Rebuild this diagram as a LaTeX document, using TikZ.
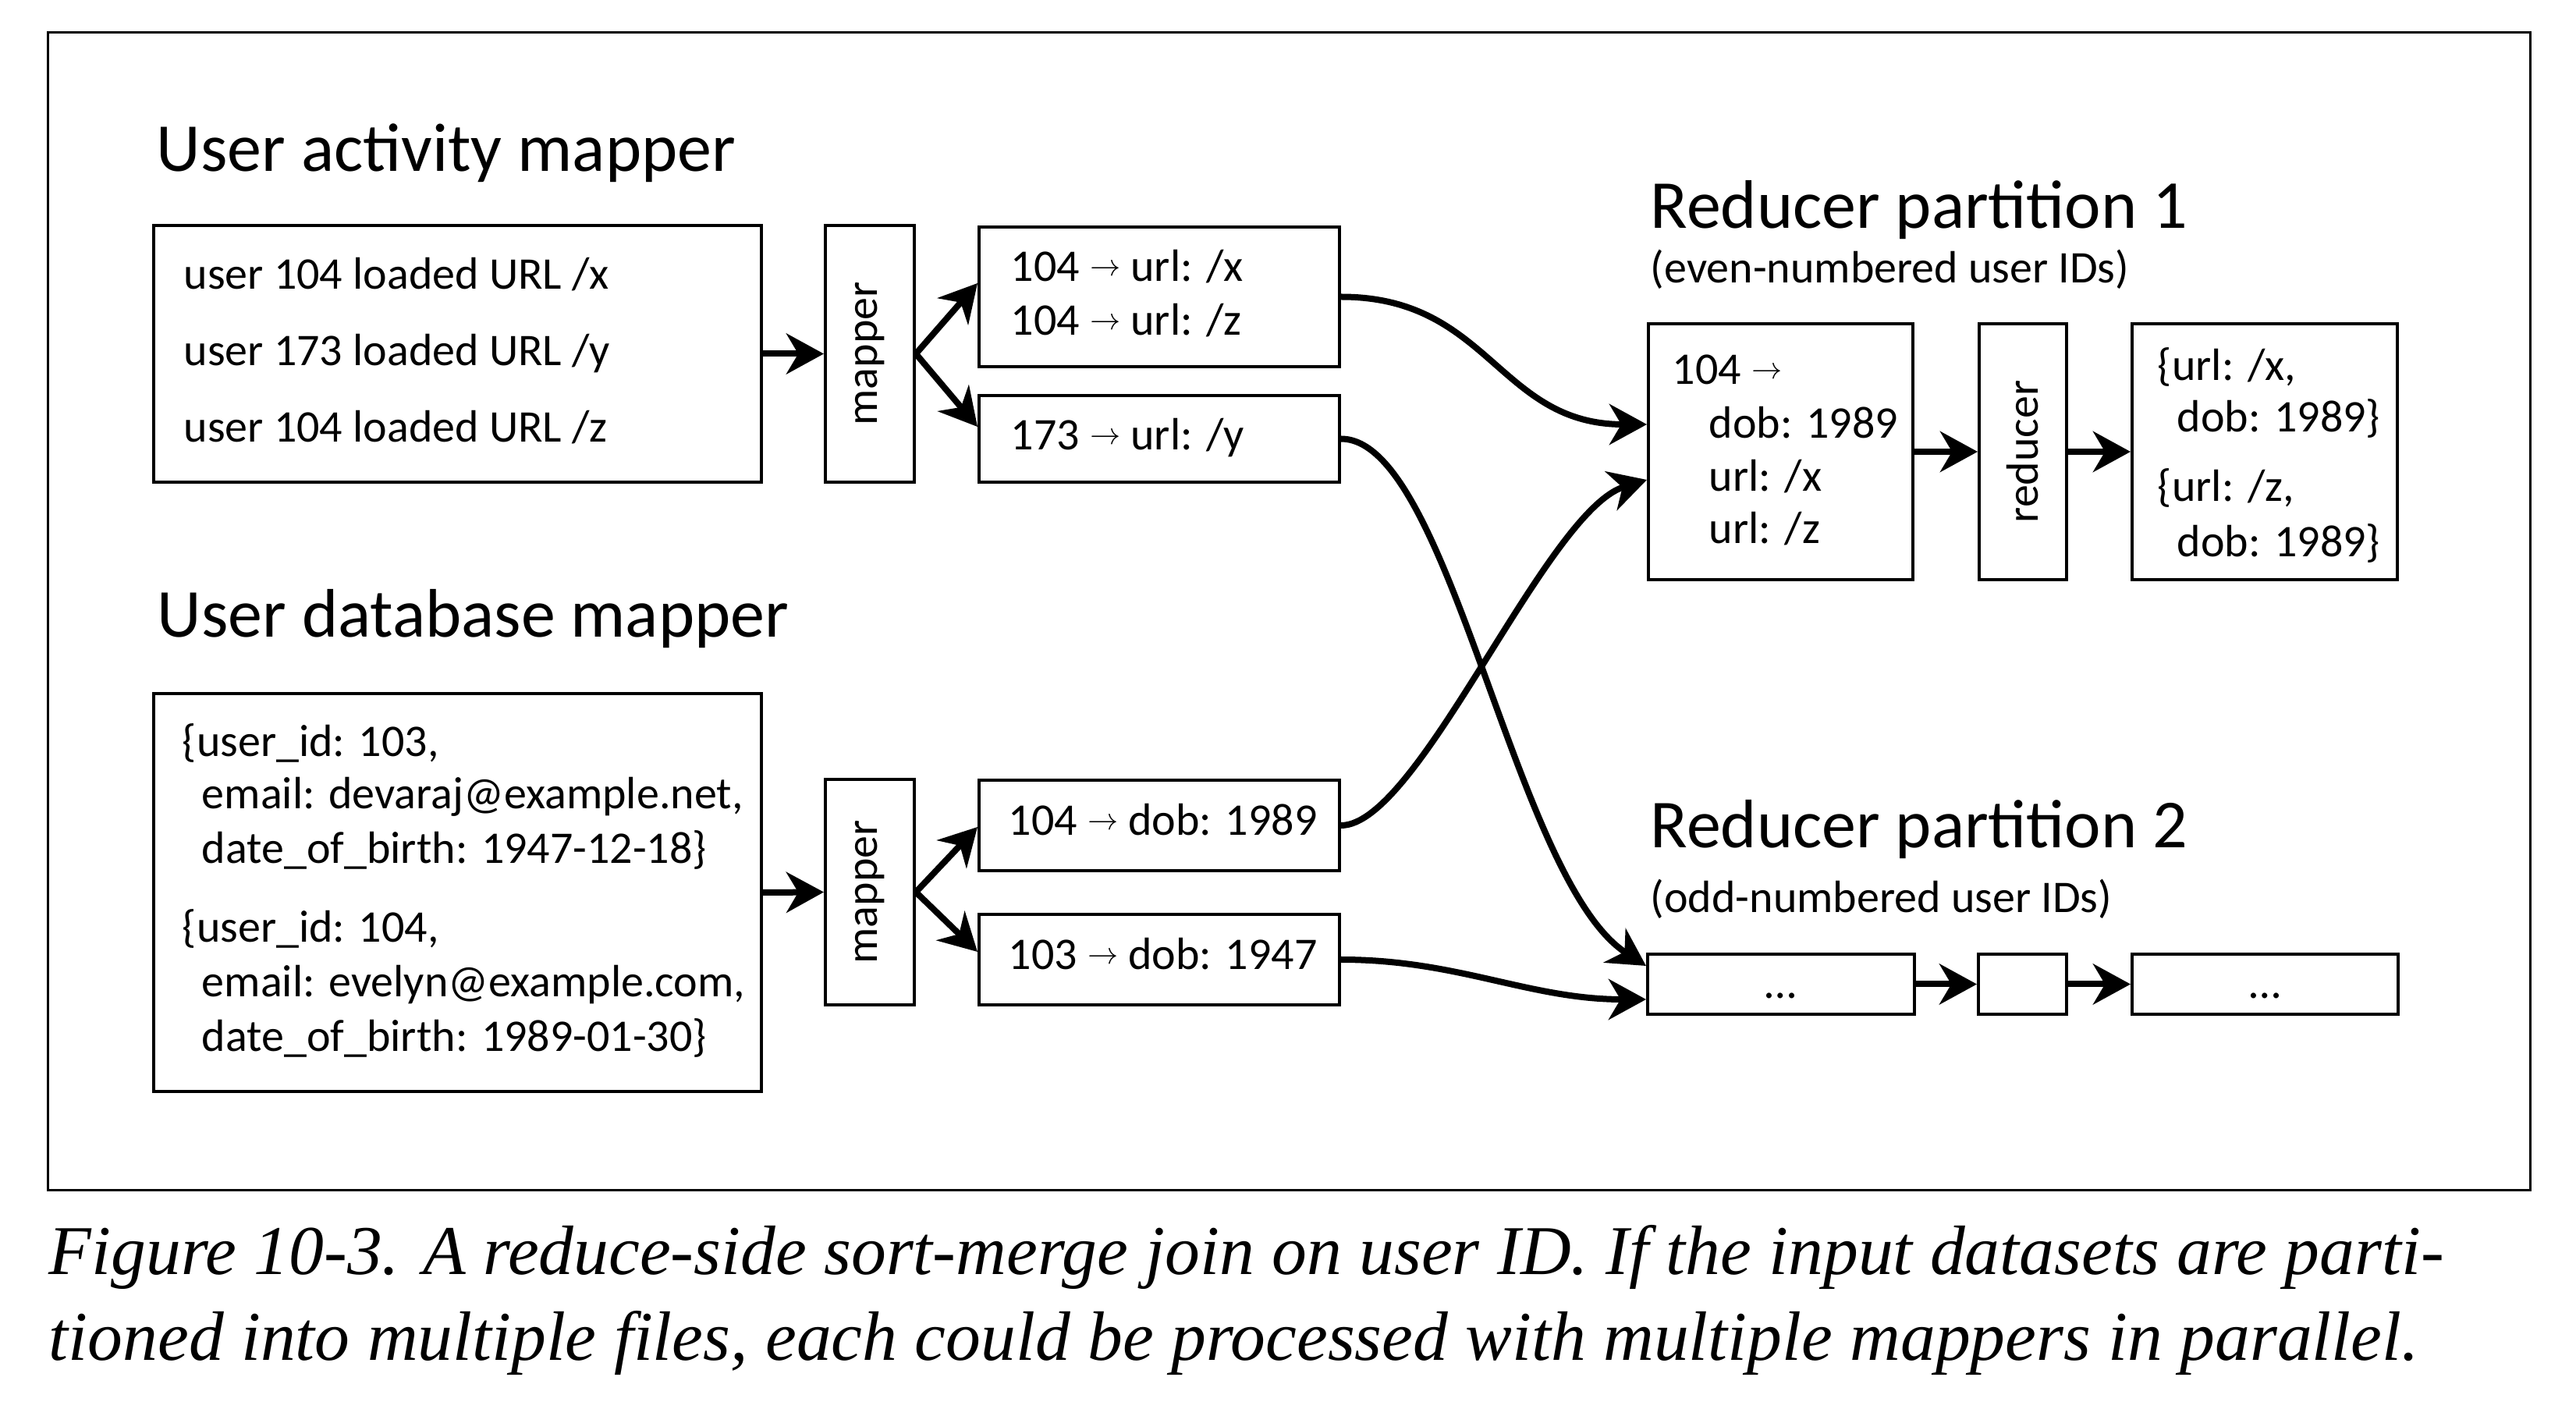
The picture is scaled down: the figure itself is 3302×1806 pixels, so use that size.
\documentclass[tikz,border=0pt]{standalone}
\usepackage{fontspec}
\usepackage{graphicx}
\usetikzlibrary{arrows.meta,calc}
\newfontfamily\txtfont{Carlito}
\newfontfamily\capfont{Liberation Serif}
\newcommand{\myarrow}{\raisebox{1.8pt}{\scalebox{0.68}{$\rightarrow$}}}
\begin{document}
\begin{tikzpicture}[x=0.25pt,y=-0.25pt,
  box/.style={draw, line width=1pt, inner sep=0pt, rectangle},
  conn/.style={line width=2pt, -{Stealth[length=12pt,width=13pt,inset=3.8pt]}},
  txt/.style={anchor=base west, inner sep=0pt, font=\txtfont\fontsize{14.5pt}{17pt}\selectfont},
  ttl/.style={anchor=base west, inner sep=0pt, font=\txtfont\fontsize{22pt}{26pt}\selectfont},
  vtxt/.style={rotate=90, inner sep=0pt, font=\txtfont\fontsize{14.5pt}{17pt}\selectfont},
  dotstxt/.style={anchor=base, inner sep=0pt, font=\txtfont\fontsize{14.5pt}{17pt}\selectfont},
  captxt/.style={anchor=base west, inner sep=0pt, font=\capfont\itshape\fontsize{22.4pt}{26pt}\selectfont},
]
\useasboundingbox (0,0) rectangle (3302,1806);
\node[box, line width=0.75pt, minimum width=795.5pt, minimum height=370.75pt] (frame) at (1652,783.5) {};

% titles
\node[ttl] (t1) at (200,220) {User activity mapper};
\node[ttl] (t2) at (201,817) {User database mapper};
\node[ttl] (t3) at (2115,293) {Reducer partition 1};
\node[txt] (t3s) at (2115,363) {(even-numbered user IDs)};
\node[ttl] (t4) at (2115,1087) {Reducer partition 2};
\node[txt] (t4s) at (2115,1170) {(odd-numbered user IDs)};

% boxes
\node[box, minimum width=194.75pt, minimum height=82.25pt] (act) at (586.5,453.5) {};
\node[box, minimum width=28.5pt, minimum height=82.25pt] (map1) at (1115,453.5) {};
\node[box, minimum width=115.5pt, minimum height=44.75pt] (A) at (1486,380.5) {};
\node[box, minimum width=115.5pt, minimum height=27.75pt] (B) at (1486,562.5) {};
\node[box, minimum width=194.75pt, minimum height=127.5pt] (db) at (586.5,1144) {};
\node[box, minimum width=28.5pt, minimum height=72.25pt] (map2) at (1115,1143.5) {};
\node[box, minimum width=115.5pt, minimum height=29pt] (C) at (1486,1058) {};
\node[box, minimum width=115.5pt, minimum height=29pt] (D) at (1486,1230) {};
\node[box, minimum width=84.75pt, minimum height=82pt] (r1) at (2282.5,579) {};
\node[box, minimum width=28pt, minimum height=82pt] (red) at (2593,579) {};
\node[box, minimum width=85pt, minimum height=82pt] (out) at (2903,579) {};
\node[box, minimum width=85.5pt, minimum height=19.25pt] (a) at (2283,1261.5) {};
\node[box, minimum width=28.25pt, minimum height=19.25pt] (b) at (2592.5,1261.5) {};
\node[box, minimum width=85.25pt, minimum height=19.25pt] (c) at (2903.5,1261.5) {};

% vertical labels
\node[vtxt] (m1t) at (map1.center) {mapper};
\node[vtxt] (m2t) at (map2.center) {mapper};
\node[vtxt] (rt) at (red.center) {reducer};

% texts
\node[txt] (l1) at (235,371) {user 104 loaded URL /x};
\node[txt] (l2) at (235,469) {user 173 loaded URL /y};
\node[txt] (l3) at (235,567) {user 104 loaded URL /z};
\node[txt] (a1) at (1295,361) {104 \myarrow{} url: /x};
\node[txt] (a2) at (1295,430) {104 \myarrow{} url: /z};
\node[txt] (b1) at (1295,577) {173 \myarrow{} url: /y};
\node[txt] (d1) at (233,970) {\{user\_id: 103,};
\node[txt] (d2) at (258,1037) {email: devaraj@example.net,};
\node[txt] (d3) at (258,1107) {date\_of\_birth: 1947-12-18\}};
\node[txt] (d4) at (233,1208) {\{user\_id: 104,};
\node[txt] (d5) at (258,1278) {email: evelyn@example.com,};
\node[txt] (d6) at (258,1348) {date\_of\_birth: 1989-01-30\}};
\node[txt] (c1) at (1292,1071) {104 \myarrow{} dob: 1989};
\node[txt] (e1) at (1292,1243) {103 \myarrow{} dob: 1947};
\node[txt] (r1a) at (2143,493) {104 \myarrow};
\node[txt] (r1b) at (2190,562) {dob: 1989};
\node[txt] (r1c) at (2190,630) {url: /x};
\node[txt] (r1d) at (2190,697) {url: /z};
\node[txt] (o1) at (2765,488) {\{url: /x,};
\node[txt] (o2) at (2790,554) {dob: 1989\}};
\node[txt] (o3) at (2765,643) {\{url: /z,};
\node[txt] (o4) at (2790,714) {dob: 1989\}};
\node[dotstxt] (adots) at (2283,1279) {…};
\node[dotstxt] (cdots) at (2903.5,1279) {…};

% connectors
\draw[conn] (act.east) -- (map1.west);
\draw[conn] (map1.east) -- ($(A.west)+(0,-17.5)$);
\draw[conn] (map1.east) -- ($(B.west)+(0,-15.5)$);
\draw[conn] (db.east) -- (map2.west);
\draw[conn] (map2.east) -- ($(C.west)+(0,2)$);
\draw[conn] (map2.east) -- ($(D.west)+(0,-10)$);
\draw[conn] (A.east) .. controls +(190,0) and +(-190,0) .. ($(r1.west)+(0,-35)$);
\draw[conn] (B.east) .. controls +(140,0) and +(-170,-110) .. ($(a.west)+(0,-23.5)$);
\draw[conn] (C.east) .. controls +(100,0) and +(-130,40) .. ($(r1.west)+(0,36)$);
\draw[conn] (D.east) .. controls +(150,0) and +(-150,0) .. ($(a.west)+(0,19.5)$);
\draw[conn] (r1.east) -- (red.west);
\draw[conn] (red.east) -- (out.west);
\draw[conn] (a.east) -- (b.west);
\draw[conn] (b.east) -- (c.west);

% caption
\node[captxt] (cap1) at (62,1633) {Figure 10-3. A reduce-side sort-merge join on user ID. If the input datasets are parti-};
\node[captxt] (cap2) at (62,1743) {tioned into multiple files, each could be processed with multiple mappers in parallel.};
\end{tikzpicture}
\end{document}
